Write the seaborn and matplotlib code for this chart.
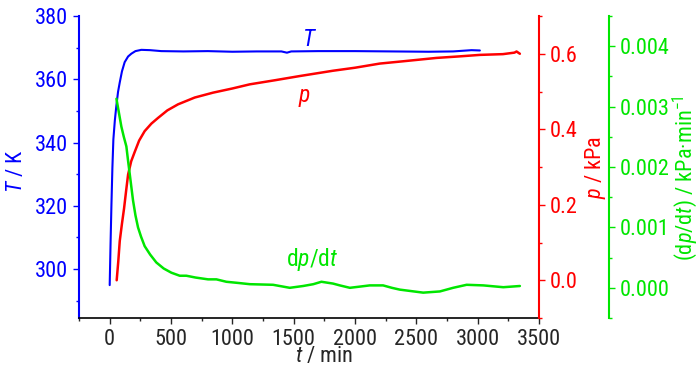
import matplotlib
matplotlib.use("Agg")
import matplotlib.pyplot as plt
import seaborn as sns
from matplotlib import font_manager as fm
from matplotlib.ticker import MultipleLocator, FormatStrFormatter

# temperature T (K) vs time (min)
t_T = [0, 7, 14, 22, 30, 42, 54, 68, 82, 100, 122, 150, 177, 210, 258, 330, 420,
       600, 800, 1000, 1200, 1400, 1445, 1480, 1700, 2000, 2300, 2600, 2800, 2950, 3018]
T = [294.9, 308, 320, 332, 341, 347, 351.5, 356, 359, 362.5, 365.4, 367.2, 368.1,
     368.9, 369.3, 369.2, 368.9, 368.8, 368.9, 368.7, 368.8, 368.8, 368.4, 368.8,
     368.9, 368.9, 368.8, 368.7, 368.8, 369.2, 369.1]

# pressure p (kPa)
t_p = [57, 70, 82, 100, 117, 135, 150, 175, 204, 240, 285, 340, 394, 470, 557, 693,
       843, 1000, 1142, 1350, 1550, 1820, 2000, 2202, 2390, 2665, 2850, 3018, 3206,
       3300, 3317, 3344]
p = [0.0, 0.05, 0.104, 0.15, 0.19, 0.24, 0.28, 0.315, 0.34, 0.37, 0.395, 0.415, 0.43,
     0.45, 0.466, 0.484, 0.497, 0.508, 0.519, 0.53, 0.541, 0.555, 0.563, 0.574, 0.58,
     0.589, 0.593, 0.597, 0.599, 0.603, 0.606, 0.6]

# dp/dt (kPa/min)
t_g = [55, 75, 95, 115, 136, 150, 163, 190, 210, 231, 255, 285, 330, 380, 440, 503,
       571, 625, 700, 802, 870, 951, 1050, 1142, 1332, 1468, 1577, 1660, 1726, 1821,
       1876, 1958, 2040, 2120, 2229, 2300, 2365, 2556, 2692, 2800, 2910, 3046, 3209, 3344]
dpdt = [0.00313, 0.0029, 0.00267, 0.0025, 0.00234, 0.0021, 0.00189, 0.00145, 0.0012,
        0.001, 0.00085, 0.00069, 0.00055, 0.00042, 0.00032, 0.00025, 0.0002, 0.0002,
        0.00017, 0.00014, 0.00014, 0.0001, 0.00008, 0.00006, 0.00005, 0.0, 0.00003,
        0.00006, 0.0001, 0.00007, 0.00004, 0.0, 0.00002, 0.00004, 0.00004, 0.0,
        -0.00003, -0.00008, -0.00006, 0.0, 0.00005, 0.00004, 0.00001, 0.00003]

BLUE = "#0000ff"
RED = "#ff0000"
GREEN = "#00e600"

# the original uses a narrow Arial; take a condensed face if one exists
available = {f.name for f in fm.fontManager.ttflist}
narrow = next((n for n in ["Liberation Sans Narrow", "Arial Narrow", "Roboto Condensed"]
               if n in available), None)
FONT = narrow or "Liberation Sans"
FS = 16 if narrow else 15

sns.set_style("ticks")
plt.rcParams["font.family"] = [FONT, "DejaVu Sans"]
plt.rcParams["mathtext.fontset"] = "custom"
plt.rcParams["mathtext.rm"] = FONT
plt.rcParams["mathtext.it"] = FONT + ":italic"
plt.rcParams["font.size"] = FS

fig = plt.figure(figsize=(7, 3.74), dpi=100)
ax = fig.add_axes([0.1129, 0.1497, 0.6571, 0.8075])
ax2 = ax.twinx()
ax3 = ax.twinx()

sns.lineplot(x=t_T, y=T, ax=ax, color=BLUE, lw=1.5)
sns.lineplot(x=t_p, y=p, ax=ax2, color=RED, lw=1.8)
sns.lineplot(x=t_g, y=dpdt, ax=ax3, color=GREEN, lw=1.8)

ax.set_xlim(-250, 3500)
ax.set_ylim(284.5, 380)
ax2.set_ylim(-0.1, 0.7)
ax3.set_ylim(-0.0005, 0.0045)

ax.xaxis.set_major_locator(MultipleLocator(500))
ax.xaxis.set_minor_locator(MultipleLocator(250))
ax.yaxis.set_major_locator(MultipleLocator(20))
ax.yaxis.set_minor_locator(MultipleLocator(10))
ax2.yaxis.set_major_locator(MultipleLocator(0.2))
ax2.yaxis.set_minor_locator(MultipleLocator(0.1))
ax3.yaxis.set_major_locator(MultipleLocator(0.001))
ax3.yaxis.set_minor_locator(MultipleLocator(0.0005))
ax2.yaxis.set_major_formatter(FormatStrFormatter("%.1f"))
ax3.yaxis.set_major_formatter(FormatStrFormatter("%.3f"))

for a in (ax, ax2, ax3):
    for s in a.spines.values():
        s.set_visible(False)
    a.tick_params(which="major", length=4, width=1, direction="out", labelsize=FS, pad=4)
    a.tick_params(which="minor", length=2.5, width=1, direction="out")

ax.spines["bottom"].set_visible(True)
ax.spines["bottom"].set_color("black")
ax.spines["bottom"].set_linewidth(1.2)
ax.spines["left"].set_visible(True)
ax.spines["left"].set_color(BLUE)
ax.spines["left"].set_linewidth(1.5)
ax.tick_params(axis="y", which="both", colors=BLUE)

ax2.spines["right"].set_visible(True)
ax2.spines["right"].set_color(RED)
ax2.spines["right"].set_linewidth(1.5)
ax2.tick_params(axis="y", which="both", colors=RED)

ax3.spines["right"].set_visible(True)
ax3.spines["right"].set_position(("axes", 1.152))
ax3.spines["right"].set_color(GREEN)
ax3.spines["right"].set_linewidth(1.5)
ax3.tick_params(axis="y", which="both", colors=GREEN)

ax.set_xlabel("$t$ / min", fontsize=FS)
ax.set_ylabel("$T$ / K", fontsize=FS, color=BLUE)
ax2.set_ylabel("$p$ / kPa", fontsize=FS, color=RED)
ax3.set_ylabel("(d$p$/d$t$) / kPa·min$^{-1}$", fontsize=FS, color=GREEN)
for lab in (ax.xaxis.label, ax.yaxis.label, ax2.yaxis.label, ax3.yaxis.label):
    lab.set_va("center")
    lab.set_ha("center")
ax.xaxis.set_label_coords(0.533, -0.127)
ax.yaxis.set_label_coords(-0.136, 0.487)
ax2.yaxis.set_label_coords(1.122, 0.5)
ax3.yaxis.set_label_coords(1.318, 0.464)

ax.text(1627, 372.7, "$T$", color=BLUE, fontsize=FS + 1, ha="center", va="center")
ax2.text(1590, 0.485, "$p$", color=RED, fontsize=FS + 1, ha="center", va="center")
ax3.text(1650, 0.00047, "d$p$/d$t$", color=GREEN, fontsize=FS + 1, ha="center", va="center")

fig.savefig("out.png", dpi=100)
